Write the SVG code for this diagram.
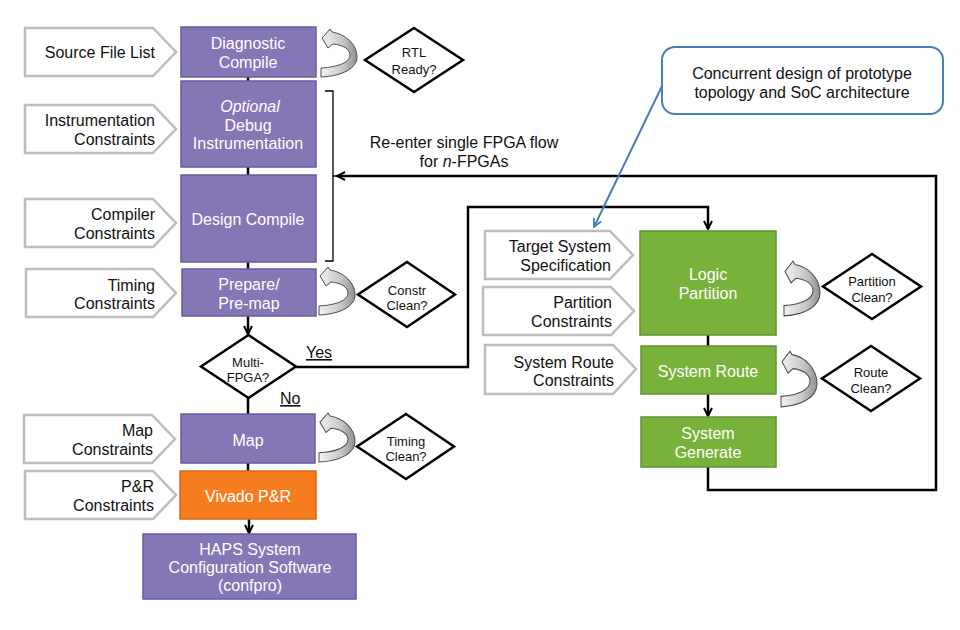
<svg xmlns="http://www.w3.org/2000/svg" xmlns:xlink="http://www.w3.org/1999/xlink" width="960" height="630" viewBox="0 0 960 630">
<defs>
<style>
text{font-family:"Liberation Sans",Arial,sans-serif;}
.bt{font-size:16px;fill:#ffffff;text-anchor:middle;}
.ct{font-size:16px;fill:#111111;text-anchor:end;}
.dt{font-size:13px;fill:#111111;text-anchor:middle;}
.lt{font-size:16px;fill:#111111;}
.purple{fill:#8576b6;stroke:#6a5c9c;stroke-width:1.5;}
.green{fill:#79b23b;stroke:#5f9430;stroke-width:1.5;}
.orange{fill:#f57d20;stroke:#d96714;stroke-width:1.5;}
.cons{fill:#ffffff;stroke:#bdbdbd;stroke-width:2.5;}
.dia{fill:#ffffff;stroke:#000000;stroke-width:2.5;stroke-linejoin:miter;}
.conn{fill:none;stroke:#000000;stroke-width:2.5;}
.curl{fill:url(#curlGrad);stroke:#4d4d4d;stroke-width:1;}
</style>
<linearGradient id="curlGrad" x1="0" y1="0" x2="1" y2="0">
<stop offset="0" stop-color="#f2f2f2"/>
<stop offset="0.6" stop-color="#c8c8c8"/>
<stop offset="1" stop-color="#8f8f8f"/>
</linearGradient>
<path id="curlShape" d="M1,10 L9,1 L11,4 C24,6 36,16 36,29 C36,40 22,48 0,49 L0,40 C18,39 29,34 29,27 C29,21 22,17 12,16 L7,20 Z"/>
<marker id="arr" viewBox="0 0 10 10" refX="9" refY="5" markerWidth="4" markerHeight="4" orient="auto" markerUnits="strokeWidth">
<path d="M1,1 L9,5 L1,9" fill="none" stroke="#000" stroke-width="2"/>
</marker>
<marker id="arrBlue" viewBox="0 0 10 10" refX="9" refY="5" markerWidth="5" markerHeight="5" orient="auto" markerUnits="strokeWidth">
<path d="M1,1 L9,5 L1,9" fill="none" stroke="#4a7ebb" stroke-width="1.8"/>
</marker>
</defs>
<rect x="0" y="0" width="960" height="630" fill="#ffffff"/>

<g id="connectors">
<line class="conn" x1="248" y1="77" x2="248" y2="81"/>
<line class="conn" x1="248" y1="167" x2="248" y2="175"/>
<line class="conn" x1="248" y1="262" x2="248" y2="269"/>
<line class="conn" x1="248" y1="316" x2="248" y2="334" marker-end="url(#arr)"/>
<line class="conn" x1="248" y1="398" x2="248" y2="414"/>
<line class="conn" x1="248" y1="463" x2="248" y2="471"/>
<line class="conn" x1="249" y1="519" x2="249" y2="533" marker-end="url(#arr)"/>
<path class="conn" d="M296,367 L468,367 L468,207 L708,207 L708,229" marker-end="url(#arr)"/>
<line class="conn" x1="708" y1="335" x2="708" y2="346"/>
<line class="conn" x1="708" y1="394" x2="708" y2="416" marker-end="url(#arr)"/>
<path class="conn" d="M708,467 L708,490 L936,490 L936,176 L337,176" marker-end="url(#arr)"/>
<path d="M325,91 L333,91 L333,261 L325,261 M333,176 L338,176" fill="none" stroke="#000" stroke-width="1.3"/>
<line x1="663" y1="84" x2="594" y2="227" stroke="#4a7ebb" stroke-width="2" marker-end="url(#arrBlue)"/>
</g>

<g id="curls">
<use xlink:href="#curlShape" class="curl" transform="translate(321,28)"/>
<use xlink:href="#curlShape" class="curl" transform="translate(319,266)"/>
<use xlink:href="#curlShape" class="curl" transform="translate(319,412) scale(1,1.02)"/>
<use xlink:href="#curlShape" class="curl" transform="translate(784,260) scale(1,1.14)"/>
<use xlink:href="#curlShape" class="curl" transform="translate(781,350) scale(1,1.16)"/>
</g>

<g id="src-list"><path class="cons" d="M25,28 L153,28 L176,52 L153,76 L25,76 Z"/><text class="ct" x="155" y="58">Source File List</text></g>
<g id="instr-cons"><path class="cons" d="M25,105 L153,105 L176,129 L153,153 L25,153 Z"/><text class="ct" x="155" y="126">Instrumentation</text><text class="ct" x="155" y="145">Constraints</text></g>
<g id="compiler-cons"><path class="cons" d="M25,199 L153,199 L176,223 L153,247 L25,247 Z"/><text class="ct" x="155" y="220">Compiler</text><text class="ct" x="155" y="239">Constraints</text></g>
<g id="timing-cons"><path class="cons" d="M26,269 L153,269 L176,293 L153,317 L26,317 Z"/><text class="ct" x="155" y="291">Timing</text><text class="ct" x="155" y="309">Constraints</text></g>
<g id="map-cons"><path class="cons" d="M24,415 L152,415 L175,439 L152,463 L24,463 Z"/><text class="ct" x="153" y="436">Map</text><text class="ct" x="153" y="455">Constraints</text></g>
<g id="pr-cons"><path class="cons" d="M25,471 L153,471 L176,495 L153,519 L25,519 Z"/><text class="ct" x="154" y="492">P&amp;R</text><text class="ct" x="154" y="511">Constraints</text></g>
<g id="target-spec"><path class="cons" d="M485,231 L610,231 L633,255 L610,279 L485,279 Z"/><text class="ct" x="611" y="252">Target System</text><text class="ct" x="611" y="271">Specification</text></g>
<g id="partition-cons"><path class="cons" d="M483,287 L611,287 L634,311 L611,335 L483,335 Z"/><text class="ct" x="612" y="308">Partition</text><text class="ct" x="612" y="327">Constraints</text></g>
<g id="route-cons"><path class="cons" d="M485,345 L613,345 L636,369 L613,394 L485,394 Z"/><text class="ct" x="614" y="368">System Route</text><text class="ct" x="614" y="386">Constraints</text></g>

<g id="diag-compile"><rect class="purple" x="181" y="27" width="135" height="50"/><text class="bt" x="248" y="49">Diagnostic</text><text class="bt" x="248" y="68">Compile</text></g>
<g id="debug-instr"><rect class="purple" x="181" y="81" width="135" height="86"/><text class="bt" x="250" y="112" font-style="italic">Optional</text><text class="bt" x="248" y="131">Debug</text><text class="bt" x="248" y="149">Instrumentation</text></g>
<g id="design-compile"><rect class="purple" x="181" y="175" width="135" height="87"/><text class="bt" x="248" y="225">Design Compile</text></g>
<g id="prepare"><rect class="purple" x="182" y="269" width="134" height="47"/><text class="bt" x="249" y="290">Prepare/</text><text class="bt" x="249" y="309">Pre-map</text></g>
<g id="map"><rect class="purple" x="181" y="414" width="134" height="49"/><text class="bt" x="248" y="446">Map</text></g>
<g id="vivado"><rect class="orange" x="180" y="471" width="136" height="48"/><text class="bt" x="248" y="502">Vivado P&amp;R</text></g>
<g id="haps"><rect class="purple" x="143" y="534" width="213" height="65"/><text class="bt" x="250" y="555">HAPS System</text><text class="bt" x="250" y="573">Configuration Software</text><text class="bt" x="250" y="591">(confpro)</text></g>

<g id="logic-partition"><rect class="green" x="640" y="231" width="136" height="104"/><text class="bt" x="708" y="280">Logic</text><text class="bt" x="708" y="299">Partition</text></g>
<g id="system-route"><rect class="green" x="641" y="346" width="135" height="48"/><text class="bt" x="708" y="377">System Route</text></g>
<g id="system-generate"><rect class="green" x="641" y="417" width="135" height="50"/><text class="bt" x="708" y="439">System</text><text class="bt" x="708" y="458">Generate</text></g>

<g id="rtl-ready"><path class="dia" d="M414,28 L463,60 L414,92 L365,60 Z"/><text class="dt" x="414" y="57">RTL</text><text class="dt" x="414" y="74">Ready?</text></g>
<g id="constr-clean"><path class="dia" d="M407,262 L455,294.5 L407,327 L358,294.5 Z"/><text class="dt" x="407" y="295">Constr</text><text class="dt" x="407" y="310">Clean?</text></g>
<g id="multi-fpga"><path class="dia" d="M248.5,335 L296,366.5 L248.5,398 L201,366.5 Z"/><text class="dt" x="248" y="367">Multi-</text><text class="dt" x="248" y="382">FPGA?</text></g>
<g id="timing-clean"><path class="dia" d="M406,414 L454,446.5 L406,479 L357,446.5 Z"/><text class="dt" x="406" y="446">Timing</text><text class="dt" x="406" y="461">Clean?</text></g>
<g id="partition-clean"><path class="dia" d="M872,254 L921,286.5 L872,319 L823,286.5 Z"/><text class="dt" x="872" y="286">Partition</text><text class="dt" x="872" y="302">Clean?</text></g>
<g id="route-clean"><path class="dia" d="M871,346 L920,378.5 L871,411 L822,378.5 Z"/><text class="dt" x="871" y="377">Route</text><text class="dt" x="871" y="393">Clean?</text></g>

<g id="labels">
<text class="lt" x="306" y="358" text-decoration="underline">Yes</text>
<text class="lt" x="280" y="404" text-decoration="underline">No</text>
<text class="lt" x="464" y="148" text-anchor="middle">Re-enter single FPGA flow</text>
<text class="lt" x="464" y="167" text-anchor="middle">for <tspan font-style="italic">n</tspan>-FPGAs</text>
</g>

<g id="callout"><rect x="662" y="47" width="281" height="67" rx="13" ry="13" fill="#ffffff" stroke="#4a7ebb" stroke-width="2"/><text class="lt" x="802" y="79" text-anchor="middle">Concurrent design of prototype</text><text class="lt" x="802" y="98" text-anchor="middle">topology and SoC architecture</text></g>
</svg>
